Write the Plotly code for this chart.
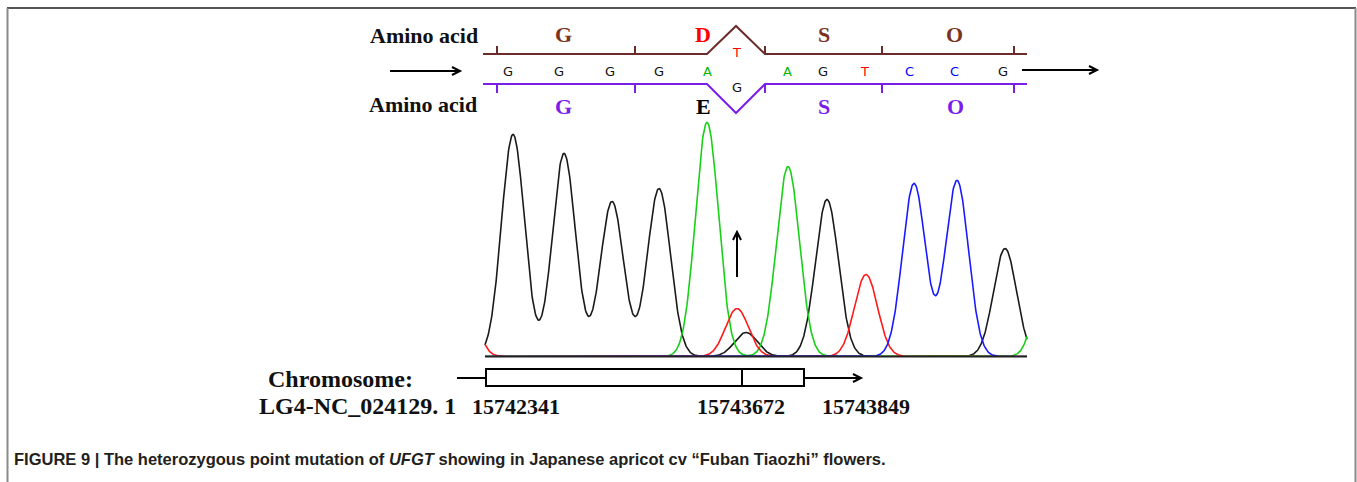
import numpy as np
import plotly.graph_objects as go

W, H = 1357, 482

# ---------------- data ----------------
# chromatogram peaks per channel: centre (scan), height (signal), width (sigma)
peak_G_center = [513, 564, 612, 659, 746, 827, 1005]
peak_G_height = [222, 203, 155, 168, 24, 157, 108]
peak_A_center = [707, 788, 1049]
peak_A_height = [234, 190, 125]
peak_T_center = [462, 737, 866]
peak_T_height = [90, 48, 82]
peak_C_center = [914, 957]
peak_C_height = [173, 176]
peak_sigma = 11.5
scan_start, scan_end = 485, 1027

# base calls
base_letters = ["G", "G", "G", "G", "A", "A", "G", "T", "C", "C", "G"]
base_pos = [508, 559, 610, 659, 707, 787, 823, 864, 909, 954, 1003]
variant_top = ("T", 736)
variant_bottom = ("G", 737)

# codon boundaries and amino acids
codon_ticks = [497, 635, 765, 882, 1014]
aa_top = ["G", "D", "S", "O"]
aa_top_pos = [563, 703, 824, 954]
aa_bottom = ["G", "E", "S", "O"]
aa_bottom_pos = [563, 703, 824, 955]

# chromosome coordinates
chrom_labels = ["15742341", "15743672", "15743849"]
chrom_label_pos = [470, 695, 820]
gene_start, gene_snp, gene_end = 486, 742, 804

caption = ("FIGURE 9 | The heterozygous point mutation of <i>UFGT</i> showing in "
           "Japanese apricot cv \u201cFuban Tiaozhi\u201d flowers.")

# ---------------- helpers ----------------
def py(y):
    return 1 - y / H

base_colors = {"G": "#111111", "A": "#00b400", "T": "#ff0000", "C": "#0000ff"}
trace_colors = {"G": "#1a1a1a", "A": "#18d018", "T": "#ff1a1a", "C": "#1a1aff"}
BROWN_LINE = "#6b2d2b"
BROWN_TXT = "#7a3320"
PURPLE = "#7a1ee8"
SERIF = "Liberation Serif"

fig = go.Figure()

xs = np.arange(scan_start, scan_end + 0.01, 0.5)

def channel(centers, heights):
    y = np.zeros_like(xs)
    for c, h in zip(centers, heights):
        y += h * np.exp(-((xs - c) ** 2) / (2 * peak_sigma ** 2))
    return y

for key, cs, hs in [("G", peak_G_center, peak_G_height),
                    ("A", peak_A_center, peak_A_height),
                    ("T", peak_T_center, peak_T_height),
                    ("C", peak_C_center, peak_C_height)]:
    fig.add_trace(go.Scatter(x=xs, y=channel(cs, hs), mode="lines",
                             line=dict(color=trace_colors[key], width=1.6),
                             hoverinfo="skip", showlegend=False))

shapes = []
annos = []

def line(x0, y0, x1, y1, color, width=2):
    shapes.append(dict(type="line", xref="x", yref="paper", x0=x0, x1=x1,
                       y0=py(y0), y1=py(y1), line=dict(color=color, width=width)))

def path(pts, color, width=2):
    d = "M " + " L ".join(f"{x},{py(y)}" for x, y in pts)
    shapes.append(dict(type="path", xref="x", yref="paper", path=d,
                       line=dict(color=color, width=width)))

def text(s, x, y, size, color, family=SERIF, bold=True, xanchor="center"):
    annos.append(dict(text=(f"<b>{s}</b>" if bold else s), x=x, y=py(y),
                      xref="x", yref="paper", showarrow=False, xanchor=xanchor,
                      yanchor="middle", font=dict(size=size, color=color, family=family)))

# frame
shapes.append(dict(type="line", xref="paper", yref="paper", x0=7 / W, x1=1356 / W,
                   y0=py(8), y1=py(8), line=dict(color="#555555", width=2)))
shapes.append(dict(type="line", xref="paper", yref="paper", x0=7.5 / W, x1=7.5 / W,
                   y0=py(8), y1=0, line=dict(color="#8a8a8a", width=2)))
shapes.append(dict(type="line", xref="paper", yref="paper", x0=1355.5 / W, x1=1355.5 / W,
                   y0=py(8), y1=0, line=dict(color="#8a8a8a", width=2)))

# sequence strands
vx0, vx1 = base_pos[4], codon_ticks[2]
vmid = (vx0 + vx1) / 2
path([(483, 54), (vx0, 54), (vmid, 26), (vx1, 54), (1027, 54)], BROWN_LINE, 2)
path([(483, 84), (vx0, 84), (vmid, 113), (vx1, 84), (1027, 84)], PURPLE, 2)
for t in codon_ticks:
    line(t, 54, t, 46, BROWN_LINE, 2)
    line(t, 84, t, 93, PURPLE, 2)

# arrows at the strand ends
line(390, 71, 459, 71, "#000000", 2)
path([(452, 67), (460, 71), (452, 75)], "#000000", 2)
line(1022, 70, 1096, 70, "#000000", 2)
path([(1089, 66), (1097, 70), (1089, 74)], "#000000", 2)

# bases
for b, x in zip(base_letters, base_pos):
    text(b, x, 71, 13, base_colors[b], family="DejaVu Sans", bold=False)
text(variant_top[0], variant_top[1], 52, 13, base_colors[variant_top[0]], family="DejaVu Sans", bold=False)
text(variant_bottom[0], variant_bottom[1], 87, 13, base_colors[variant_bottom[0]], family="DejaVu Sans", bold=False)

# amino acids
top_cols = [BROWN_TXT, "#ff0000", BROWN_TXT, BROWN_TXT]
bot_cols = [PURPLE, "#000000", PURPLE, PURPLE]
for a, x, c in zip(aa_top, aa_top_pos, top_cols):
    text(a, x, 35, 22, c)
for a, x, c in zip(aa_bottom, aa_bottom_pos, bot_cols):
    text(a, x, 106, 22, c)
text("Amino acid", 368, 36, 22, "#111111", xanchor="left")
text("Amino acid", 367, 104, 22, "#111111", xanchor="left")

# chromatogram baseline and mutation arrow
line(scan_start, 356.5, scan_end, 356.5, "#222222", 1.8)
line(737, 277, 737, 233, "#000000", 2)
path([(733, 240), (737, 232), (741, 240)], "#000000", 2)

# chromosome diagram
line(457, 378, gene_start, 378, "#000000", 2)
shapes.append(dict(type="rect", xref="x", yref="paper", x0=gene_start, x1=gene_end,
                   y0=py(386), y1=py(369), line=dict(color="#000000", width=2)))
line(gene_snp, 369, gene_snp, 386, "#000000", 2)
line(gene_end, 378, 860, 378, "#000000", 2)
path([(853, 374), (861, 378), (853, 382)], "#000000", 2)

text("Chromosome:", 266, 379, 24, "#111111", xanchor="left")
text("LG4-NC_024129. 1", 257, 406, 24, "#111111", xanchor="left")
for s, x in zip(chrom_labels, chrom_label_pos):
    text(s, x, 406, 22, "#111111", xanchor="left")

# caption
annos.append(dict(text="<b>" + caption + "</b>", x=12 / W, y=py(459), xref="paper", yref="paper",
                  showarrow=False, xanchor="left", yanchor="middle",
                  font=dict(size=16.5, color="#231f20", family="Liberation Sans")))

fig.update_layout(
    width=W, height=H, margin=dict(l=0, r=0, t=0, b=0),
    paper_bgcolor="white", plot_bgcolor="rgba(0,0,0,0)",
    xaxis=dict(range=[0, W], domain=[0, 1], visible=False, fixedrange=True),
    yaxis=dict(range=[0, 240], domain=[py(356.5), py(116.5)], visible=False, fixedrange=True),
    shapes=shapes, annotations=annos, showlegend=False,
)

fig.write_html("out.html", config={"displayModeBar": False},
               post_script="document.body.style.margin='0px';")
